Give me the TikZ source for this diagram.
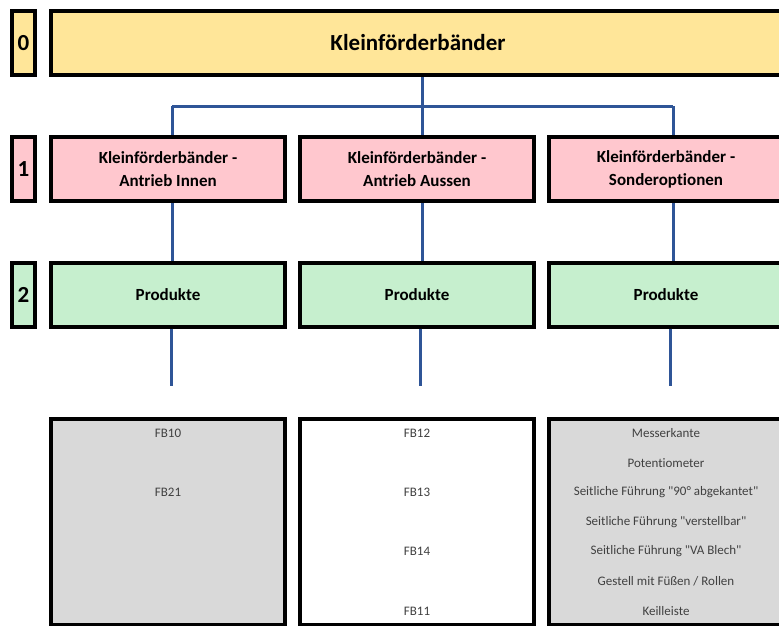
\documentclass[tikz,border=0pt]{standalone}
\usepackage{fontspec}
\setmainfont{Carlito}[Ligatures={NoCommon}]
\definecolor{gelb}{HTML}{FFE699}
\definecolor{rosa}{HTML}{FFC7CE}
\definecolor{gruen}{HTML}{C6EFCE}
\definecolor{grau}{HTML}{D9D9D9}
\definecolor{linie}{HTML}{2F5597}
\definecolor{schrift}{HTML}{404040}
\begin{document}
\begin{tikzpicture}[x=1pt, y=-1pt, level box/.style={rectangle,draw=black,line width=4pt,minimum width=234pt,minimum height=64pt,inner sep=0pt,align=center,font=\bfseries\fontsize{17}{23}\selectfont},label box/.style={level box,minimum width=23pt,font=\bfseries\fontsize{23}{26}\selectfont},list box/.style={rectangle,draw=black,line width=4pt,minimum width=234pt,minimum height=206pt,inner sep=0pt},item/.style={text=schrift,font=\fontsize{13}{15}\selectfont}]
\useasboundingbox (0,0) rectangle (779,625);
\clip (0,0) rectangle (779,625);
\begin{scope}
\node[label box,fill=gelb] (l0) at (23.5,43) {0};%0
\node[label box,fill=rosa] (l1) at (23.5,169) {1};%1
\node[label box,fill=gruen] (l2) at (23.5,294.5) {2};%2
\node[level box,fill=gelb,minimum width=734pt,font=\bfseries\fontsize{23}{26}\selectfont] (k0) at (418,43) {Kleinförderbänder};%0
\node[level box,fill=rosa] (k1) at (168,169) {Kleinförderbänder -\\Antrieb Innen};%1
\node[level box,fill=rosa] (k2) at (417,169) {Kleinförderbänder -\\Antrieb Aussen};%2
\node[level box,fill=rosa] (k3) at (666,169) {Kleinförderbänder -\\Sonderoptionen};%3
\node[level box,fill=gruen] (p1) at (168,294.5) {Produkte};%1
\node[level box,fill=gruen] (p2) at (417,294.5) {Produkte};%2
\node[level box,fill=gruen] (p3) at (666,294.5) {Produkte};%3
\node[list box,fill=grau] (b1) at (168,522) {};%1
\node[list box,fill=white] (b2) at (417,522) {};%2
\node[list box,fill=grau] (b3) at (666,522) {};%3
\end{scope}
\begin{scope}[every node/.style={item}]
\node (fb10) at (168,433) {FB10};
\node (fb21) at (168,492) {FB21};
\node (fb12) at (417,433) {FB12};
\node (fb13) at (417,492) {FB13};
\node (fb14) at (417,551) {FB14};
\node (fb11) at (417,611) {FB11};
\node (o1) at (666,433) {Messerkante};
\node (o2) at (666,463) {Potentiometer};
\node (o3) at (666,492) {Seitliche Führung \textquotedbl90° abgekantet\textquotedbl};
\node (o4) at (666,522) {Seitliche Führung \textquotedbl verstellbar\textquotedbl};
\node (o5) at (666,551) {Seitliche Führung \textquotedbl VA Blech\textquotedbl};
\node (o6) at (666,581) {Gestell mit Füßen / Rollen};
\node (o7) at (666,611) {Keilleiste};
\end{scope}
\coordinate (c1) at (172,106);
\coordinate (c2) at (422,106);
\coordinate (c3) at (673,106);
\coordinate (e1) at (171,386);
\coordinate (e2) at (420,386);
\coordinate (e3) at (670,386);
\begin{scope}[every edge/.style={draw=linie,line width=3pt}]
\draw (k0.south -| c2) edge (k2.north -| c2);
\draw (c1) edge (c3);
\draw (c1) edge (k1.north -| c1);
\draw (c3) edge (k3.north -| c3);
\draw (k1.south -| c1) edge (p1.north -| c1);
\draw (k2.south -| c2) edge (p2.north -| c2);
\draw (k3.south -| c3) edge (p3.north -| c3);
\draw (p1.south -| e1) edge (e1);
\draw (p2.south -| e2) edge (e2);
\draw (p3.south -| e3) edge (e3);
\end{scope}
\end{tikzpicture}
\end{document}
